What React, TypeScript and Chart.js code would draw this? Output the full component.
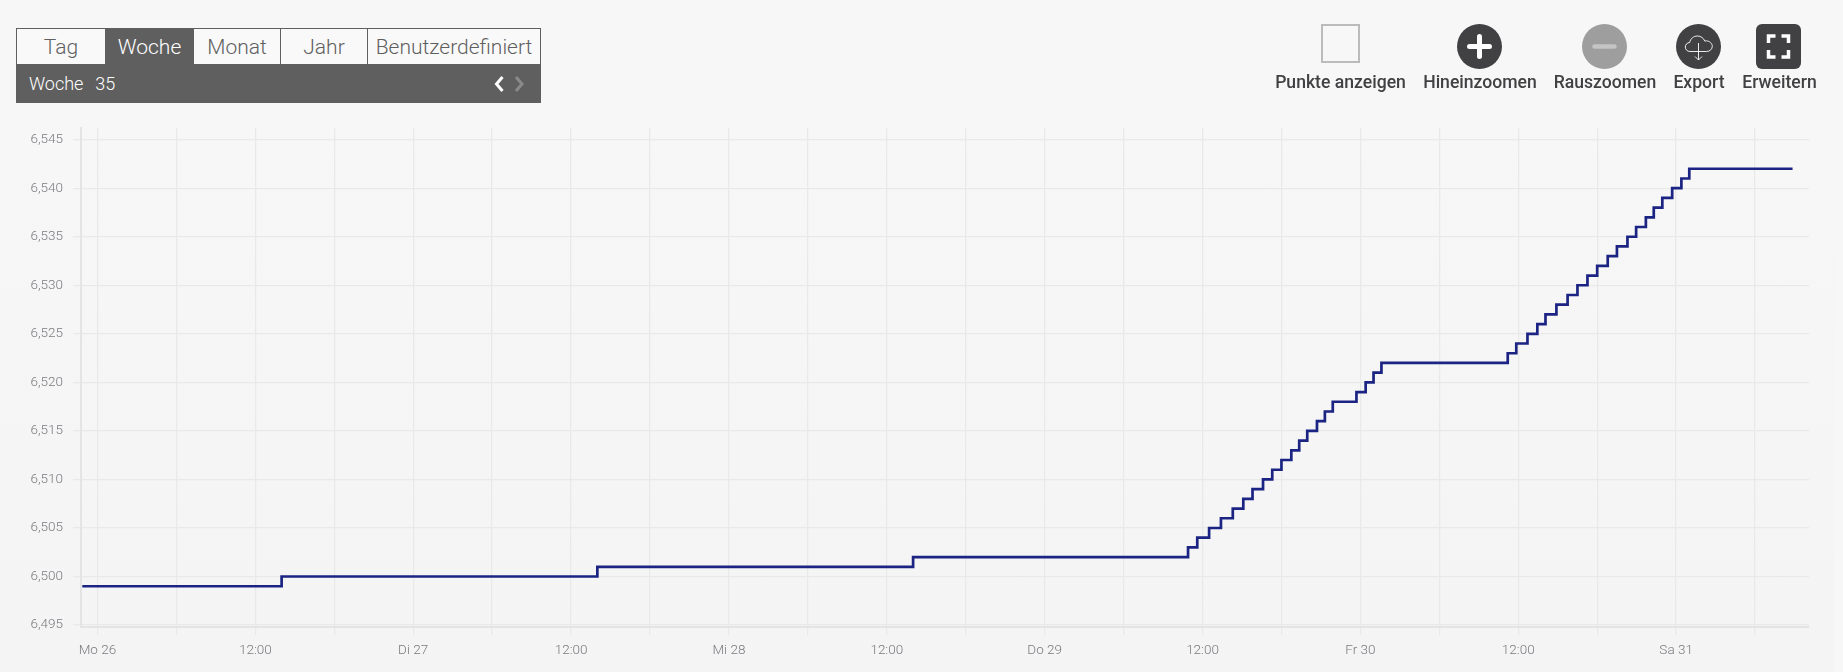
import React, { useEffect, useRef } from "react";
import { Chart, registerables } from "chart.js";

Chart.register(...registerables);

// Hours since Monday 26th 00:00 at which the meter reading changed
const stepHours = [
  -1.15, 14.0, 38.0, 62.0, 82.9, 83.6, 84.5, 85.4, 86.3, 87.1, 87.8, 88.6, 89.3, 90.0, 90.75, 91.35, 91.96,
  92.7, 93.3, 93.9, 95.7, 96.4, 97.0, 97.6, 107.2, 107.85, 108.7, 109.45, 110.07, 110.9, 111.75, 112.5,
  113.26, 114.0, 114.8, 115.5, 116.3, 116.96, 117.7, 118.3, 118.95, 119.7, 120.4, 121.0, 128.85,
];
const stepValues = [
  6499, 6500, 6501, 6502, 6503, 6504, 6505, 6506, 6507, 6508, 6509, 6510, 6511, 6512, 6513, 6514, 6515,
  6516, 6517, 6518, 6519, 6520, 6521, 6522, 6523, 6524, 6525, 6526, 6527, 6528, 6529, 6530,
  6531, 6532, 6533, 6534, 6535, 6536, 6537, 6538, 6539, 6540, 6541, 6542, 6542,
];
const dayLabels: Record<number, string> = { 0: "Mo 26", 24: "Di 27", 48: "Mi 28", 72: "Do 29", 96: "Fr 30", 120: "Sa 31" };
const tabs = ["Tag", "Woche", "Monat", "Jahr", "Benutzerdefiniert"];
const tabWidths = [89, 88, 87, 87, 174];
const actionLabels = ["Punkte anzeigen", "Hineinzoomen", "Rauszoomen", "Export", "Erweitern"];
const actionCenters = [1340.5, 1480, 1605, 1699, 1779.5];

const FONT = "Roboto, sans-serif";

function Icon({ index }: { index: number }) {
  const base: React.CSSProperties = { position: "absolute", top: 24, boxSizing: "border-box" };
  if (index === 0) {
    return <div style={{ ...base, left: 1321, width: 39, height: 39, border: "2px solid #bbbbbb" }} />;
  }
  if (index === 1) {
    return (
      <svg style={{ ...base, left: 1457 }} width={45} height={45} viewBox="0 0 45 45">
        <circle cx={22.5} cy={22.5} r={22.5} fill="#414143" />
        <path d="M22.5 12.5v20M12.5 22.5h20" stroke="#fff" strokeWidth={5} strokeLinecap="round" />
      </svg>
    );
  }
  if (index === 2) {
    return (
      <svg style={{ ...base, left: 1582 }} width={45} height={45} viewBox="0 0 45 45">
        <circle cx={22.5} cy={22.5} r={22.5} fill="#9e9e9e" />
        <path d="M12.5 22.5h20" stroke="#c4c4c4" strokeWidth={4.5} strokeLinecap="round" />
      </svg>
    );
  }
  if (index === 3) {
    return (
      <svg style={{ ...base, left: 1676 }} width={45} height={45} viewBox="0 0 45 45">
        <circle cx={22.5} cy={22.5} r={22.5} fill="#414143" />
        <path
          d="M17 27.5h-3c-2.6 0-4.7-2-4.7-4.5s2-4.4 4.4-4.5c.6-3.7 3.8-6.5 7.7-6.5 3.4 0 6.3 2.1 7.4 5.1.5-.1 1-.2 1.5-.2 3.300 0 6 2.6 6 5.4s-2.500 5.200-5.800 5.200H17z"
          fill="none"
          stroke="#fff"
          strokeWidth={0.9}
        />
        <path d="M22.500 19v17M19 32.500l3.500 3.500 3.500-3.500" fill="none" stroke="#fff" strokeWidth={0.9} />
      </svg>
    );
  }
  return (
    <svg style={{ ...base, left: 1756 }} width={45} height={45} viewBox="0 0 45 45">
      <rect width={45} height={45} rx={6} fill="#414143" />
      <path
        d="M12.500 19v-7h7M25.500 12h7v7M32.500 26v7h-7M19.500 33h-7v-7"
        fill="none"
        stroke="#fff"
        strokeWidth={3.500}
      />
    </svg>
  );
}

export default function App() {
  const ref = useRef<HTMLCanvasElement>(null);

  useEffect(() => {
    document.body.style.margin = "0";
    const chart = new Chart(ref.current!, {
      type: "line",
      data: {
        datasets: [
          {
            data: stepHours.map((h, i) => ({ x: h, y: stepValues[i] })),
            borderColor: "#1b2483",
            borderWidth: 2.7,
            pointRadius: 0,
            stepped: true,
            fill: false,
          },
        ],
      },
      options: {
        animation: false,
        responsive: false,
        parsing: false,
        layout: { padding: { top: 128, right: 34, left: 0, bottom: 0 } },
        plugins: { legend: { display: false }, tooltip: { enabled: false }, title: { display: false } },
        scales: {
          x: {
            type: "linear",
            min: -1.25,
            max: 130.1,
            afterFit: (s: any) => {
              s.height = 45;
            },
            afterBuildTicks: (s: any) => {
              s.ticks = s.ticks.filter((t: any) => t.value % 6 === 0);
            },
            ticks: {
              stepSize: 6,
              includeBounds: false,
              autoSkip: false,
              maxRotation: 0,
              padding: 8,
              color: "#7b7b80",
              font: { family: "Roboto", size: 13.5, weight: "300" },
              callback: (v: any) => {
                const h = Number(v);
                if (dayLabels[h] !== undefined) return dayLabels[h];
                return h % 24 === 12 ? "12:00" : "";
              },
            },
            grid: { color: "#e9e9ea", lineWidth: 1.3, tickLength: 8 },
            border: { display: true, color: "#e4e4e6", width: 2 },
          },
          y: {
            type: "linear",
            min: 6494.8,
            max: 6546.2,
            afterFit: (s: any) => {
              s.width = 81;
            },
            ticks: {
              stepSize: 5,
              includeBounds: false,
              padding: 10,
              color: "#7b7b80",
              font: { family: "Roboto", size: 13.5, weight: "300" },
              callback: (v: any) => {
                const n = Number(v);
                return `${Math.floor(n / 1000)},${String(n % 1000).padStart(3, "0")}`;
              },
            },
            grid: { color: "#e9e9ea", lineWidth: 1.3, tickLength: 8 },
            border: { display: true, color: "#e4e4e6", width: 2 },
          },
        },
      },
    });
    return () => chart.destroy();
  }, []);

  return (
    <div style={{ position: "absolute", left: 0, top: 0, width: 1843, height: 672, background: "#f7f7f7", overflow: "hidden", fontFamily: FONT }}>
      <div style={{ position: "absolute", left: 0, top: 115, width: 1834, height: 557, background: "linear-gradient(#f7f7f7, #f4f4f4)" }} />
      <canvas ref={ref} width={1843} height={672} style={{ position: "absolute", left: 0, top: 0, width: 1843, height: 672 }} />

      <div style={{ position: "absolute", left: 16, top: 28, width: 525, height: 75, boxSizing: "border-box", border: "1px solid #5f5f5f", background: "#5f5f5f" }}>
        <div style={{ display: "flex", height: 35 }}>
          {tabs.map((t, i) => (
            <div
              key={t}
              style={{
                boxSizing: "border-box",
                width: tabWidths[i] - (i === 4 ? 2 : 0),
                height: 35,
                lineHeight: "37px",
                textAlign: "center",
                fontSize: 21,
                fontWeight: 300,
                whiteSpace: "nowrap",
                color: i === 1 ? "#ffffff" : "#5f5f5f",
                background: i === 1 ? "#5f5f5f" : "#f9f9f9",
                borderRight: i < 4 ? "1px solid #5f5f5f" : "none",
              }}
            >
              {t}
            </div>
          ))}
        </div>
        <div style={{ position: "absolute", left: 12, top: 37, lineHeight: "36px", fontSize: 18, fontWeight: 300, color: "#fff", whiteSpace: "pre", wordSpacing: 1.5 }}>
          {"Woche  35"}
        </div>
        <svg style={{ position: "absolute", left: 473, top: 45 }} width={46} height={20} viewBox="0 0 46 20">
          <path d="M12.500 3l-6 7 6 7" fill="none" stroke="#fff" strokeWidth={3} />
          <path d="M26 3l6 7-6 7" fill="none" stroke="#8a8a8a" strokeWidth={3} />
        </svg>
      </div>

      {actionLabels.map((_, i) => (
        <Icon key={i} index={i} />
      ))}
      {actionLabels.map((t, i) => (
        <div
          key={t}
          style={{
            position: "absolute",
            left: actionCenters[i] - 100,
            width: 200,
            top: 70,
            lineHeight: "24px",
            textAlign: "center",
            fontSize: 17.6,
            fontWeight: 500,
            color: "#414143",
          }}
        >
          {t}
        </div>
      ))}
    </div>
  );
}
